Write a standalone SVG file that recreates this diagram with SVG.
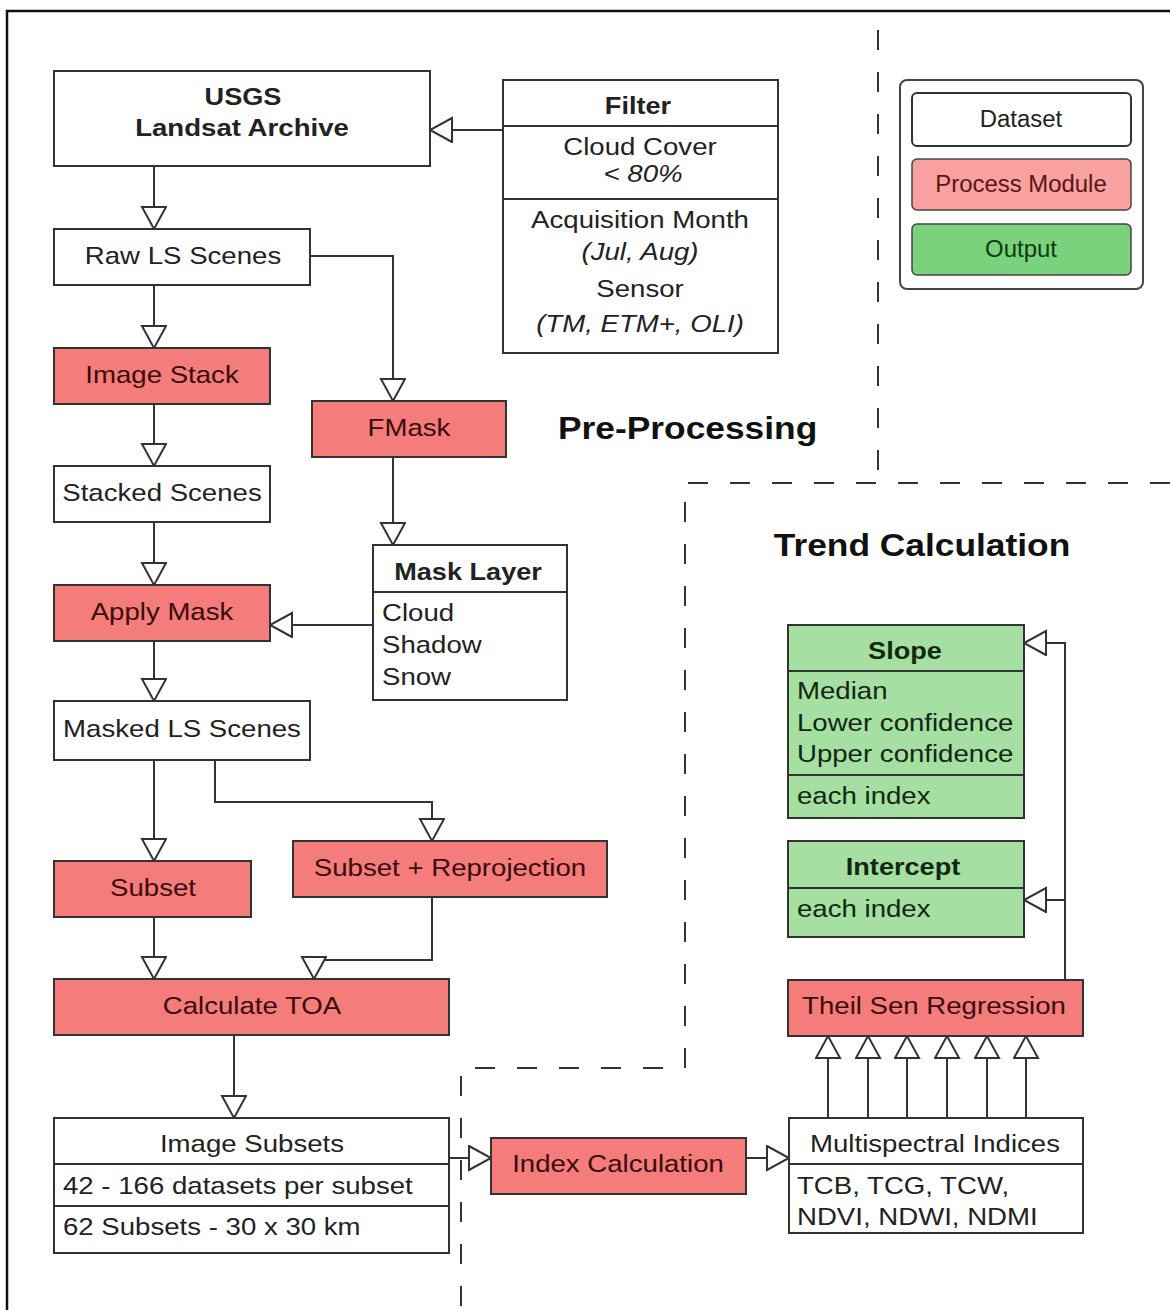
<svg xmlns="http://www.w3.org/2000/svg" width="1170" height="1310" viewBox="0 0 1170 1310">
<defs>
<marker id="arr" markerUnits="userSpaceOnUse" markerWidth="26" markerHeight="28" refX="23" refY="13" orient="auto">
<path d="M1,1 L23,13 L1,25 Z" fill="#fff" stroke="#333" stroke-width="2"/>
</marker>
<style>
text{font-family:"Liberation Sans",Arial,sans-serif;fill:#222;font-size:24px}
.b{font-weight:bold}
.i{font-style:italic}
.c{text-anchor:middle}
.ds{fill:#fff;stroke:#333;stroke-width:2}
.pm{fill:#f47c7a;stroke:#333;stroke-width:2}
.pmt{fill:#3a0c0c}
.out{fill:#a5dfa2;stroke:#333;stroke-width:2}
.outt{fill:#102810}
.con{fill:none;stroke:#333;stroke-width:2;marker-end:url(#arr)}
.dash{fill:none;stroke:#333;stroke-width:2;stroke-dasharray:20 22}
.div{stroke:#333;stroke-width:2}
.ttl{font-size:31px;font-weight:bold;fill:#111}
.lg{font-size:23px}
</style>
</defs>
<rect x="0" y="0" width="1170" height="1310" fill="#fff"/>
<path d="M7,1310 V11 H1170" fill="none" stroke="#111" stroke-width="2.5"/>

<g id="boundaries">
<path class="dash" d="M878,30 V483"/>
<path class="dash" d="M1170,483 H685 V1068 H461 V1310"/>
</g>

<g id="connectors">
<path class="con" d="M503,130 H430"/>
<path class="con" d="M154,166 V229"/>
<path class="con" d="M310,256 H393 V401"/>
<path class="con" d="M154,285 V348"/>
<path class="con" d="M154,404 V466"/>
<path class="con" d="M154,522 V585"/>
<path class="con" d="M393,457 V545"/>
<path class="con" d="M373,625 H270"/>
<path class="con" d="M154,641 V701"/>
<path class="con" d="M154,760 V861"/>
<path class="con" d="M215,760 V802 H432 V841"/>
<path class="con" d="M154,917 V979"/>
<path class="con" d="M432,897 V960 H314 V979"/>
<path class="con" d="M234,1035 V1118"/>
<path class="con" d="M449,1158 H491"/>
<path class="con" d="M746,1158 H789"/>
<path class="con" d="M828,1118 V1036"/>
<path class="con" d="M868,1118 V1036"/>
<path class="con" d="M907,1118 V1036"/>
<path class="con" d="M947,1118 V1036"/>
<path class="con" d="M987,1118 V1036"/>
<path class="con" d="M1026,1118 V1036"/>
<path class="con" d="M1065,980 V643 H1024"/>
<path class="con" d="M1065,900 H1024"/>
</g>

<g id="usgs">
<rect class="ds" x="54" y="71" width="376" height="95"/>
<text class="b c" transform="matrix(1.13 0 0 1 243 0)" y="105">USGS</text>
<text class="b c" transform="matrix(1.15 0 0 1 242 0)" y="136">Landsat Archive</text>
</g>

<g id="filter">
<rect class="ds" x="503" y="80" width="275" height="273"/>
<line class="div" x1="503" y1="126" x2="778" y2="126"/>
<line class="div" x1="503" y1="199" x2="778" y2="199"/>
<text class="b c" transform="matrix(1.13 0 0 1 638 0)" y="114">Filter</text>
<text class="c" transform="matrix(1.15 0 0 1 640 0)" y="155">Cloud Cover</text>
<text class="c i" transform="matrix(1.15 0 0 1 643 0)" y="182">&lt; 80%</text>
<text class="c" transform="matrix(1.15 0 0 1 640 0)" y="228">Acquisition Month</text>
<text class="c i" transform="matrix(1.15 0 0 1 640 0)" y="260">(Jul, Aug)</text>
<text class="c" transform="matrix(1.15 0 0 1 640 0)" y="297">Sensor</text>
<text class="c i" transform="matrix(1.15 0 0 1 640 0)" y="332">(TM, ETM+, OLI)</text>
</g>

<g id="legend">
<rect x="900" y="80" width="243" height="209" rx="7" fill="#fff" stroke="#444" stroke-width="2"/>
<rect x="912" y="93" width="219" height="53" rx="5" fill="#fff" stroke="#333" stroke-width="2"/>
<text class="c lg" transform="matrix(1.04 0 0 1 1021 0)" y="127">Dataset</text>
<rect x="912" y="159" width="219" height="51" rx="5" fill="#f9a0a0" stroke="#444" stroke-width="1.5"/>
<text class="c lg" transform="matrix(1.04 0 0 1 1021 0)" y="192" style="fill:#5a1515">Process Module</text>
<rect x="912" y="224" width="219" height="51" rx="5" fill="#7ad27c" stroke="#444" stroke-width="1.5"/>
<text class="c lg" transform="matrix(1.04 0 0 1 1021 0)" y="257" style="fill:#0e3a10">Output</text>
</g>

<g id="raw-ls-scenes">
<rect class="ds" x="54" y="229" width="256" height="56"/>
<text class="c" transform="matrix(1.15 0 0 1 183 0)" y="264">Raw LS Scenes</text>
</g>

<g id="image-stack">
<rect class="pm" x="54" y="348" width="216" height="56"/>
<text class="c pmt" transform="matrix(1.15 0 0 1 162 0)" y="383">Image Stack</text>
</g>

<g id="fmask">
<rect class="pm" x="312" y="401" width="194" height="56"/>
<text class="c pmt" transform="matrix(1.15 0 0 1 409 0)" y="436">FMask</text>
</g>

<text class="ttl" transform="matrix(1.14 0 0 1 558 0)" y="439">Pre-Processing</text>

<g id="stacked-scenes">
<rect class="ds" x="54" y="466" width="216" height="56"/>
<text class="c" transform="matrix(1.15 0 0 1 162 0)" y="501">Stacked Scenes</text>
</g>

<g id="apply-mask">
<rect class="pm" x="54" y="585" width="216" height="56"/>
<text class="c pmt" transform="matrix(1.15 0 0 1 162 0)" y="620">Apply Mask</text>
</g>

<g id="mask-layer">
<rect class="ds" x="373" y="545" width="194" height="155"/>
<line class="div" x1="373" y1="592" x2="567" y2="592"/>
<text class="b c" transform="matrix(1.13 0 0 1 468 0)" y="580">Mask Layer</text>
<text transform="matrix(1.15 0 0 1 382 0)" y="621">Cloud</text>
<text transform="matrix(1.15 0 0 1 382 0)" y="653">Shadow</text>
<text transform="matrix(1.15 0 0 1 382 0)" y="685">Snow</text>
</g>

<g id="masked-ls-scenes">
<rect class="ds" x="54" y="701" width="256" height="59"/>
<text class="c" transform="matrix(1.15 0 0 1 182 0)" y="737">Masked LS Scenes</text>
</g>

<g id="subset">
<rect class="pm" x="54" y="861" width="197" height="56"/>
<text class="c pmt" transform="matrix(1.15 0 0 1 153 0)" y="896">Subset</text>
</g>

<g id="subset-reprojection">
<rect class="pm" x="293" y="841" width="314" height="56"/>
<text class="c pmt" transform="matrix(1.15 0 0 1 450 0)" y="876">Subset + Reprojection</text>
</g>

<g id="calculate-toa">
<rect class="pm" x="54" y="979" width="395" height="56"/>
<text class="c pmt" transform="matrix(1.15 0 0 1 252 0)" y="1014">Calculate TOA</text>
</g>

<g id="image-subsets">
<rect class="ds" x="54" y="1118" width="395" height="135"/>
<line class="div" x1="54" y1="1164" x2="449" y2="1164"/>
<line class="div" x1="54" y1="1206" x2="449" y2="1206"/>
<text class="c" transform="matrix(1.15 0 0 1 252 0)" y="1152">Image Subsets</text>
<text transform="matrix(1.15 0 0 1 63 0)" y="1194">42 - 166 datasets per subset</text>
<text transform="matrix(1.15 0 0 1 63 0)" y="1235">62 Subsets - 30 x 30 km</text>
</g>

<g id="index-calculation">
<rect class="pm" x="491" y="1138" width="255" height="56"/>
<text class="c pmt" transform="matrix(1.15 0 0 1 618 0)" y="1172">Index Calculation</text>
</g>

<g id="multispectral-indices">
<rect class="ds" x="789" y="1118" width="294" height="115"/>
<line class="div" x1="789" y1="1164" x2="1083" y2="1164"/>
<text class="c" transform="matrix(1.15 0 0 1 935 0)" y="1152">Multispectral Indices</text>
<text transform="matrix(1.15 0 0 1 797 0)" y="1194">TCB, TCG, TCW,</text>
<text transform="matrix(1.15 0 0 1 797 0)" y="1225">NDVI, NDWI, NDMI</text>
</g>

<text class="ttl c" transform="matrix(1.14 0 0 1 922 0)" y="556">Trend Calculation</text>

<g id="slope">
<rect class="out" x="788" y="625" width="236" height="193"/>
<line class="div" x1="788" y1="671" x2="1024" y2="671"/>
<line class="div" x1="788" y1="775" x2="1024" y2="775"/>
<text class="b c outt" transform="matrix(1.13 0 0 1 905 0)" y="659">Slope</text>
<text class="outt" transform="matrix(1.15 0 0 1 797 0)" y="699">Median</text>
<text class="outt" transform="matrix(1.15 0 0 1 797 0)" y="731">Lower confidence</text>
<text class="outt" transform="matrix(1.15 0 0 1 797 0)" y="762">Upper confidence</text>
<text class="outt" transform="matrix(1.15 0 0 1 797 0)" y="804">each index</text>
</g>

<g id="intercept">
<rect class="out" x="788" y="841" width="236" height="96"/>
<line class="div" x1="788" y1="888" x2="1024" y2="888"/>
<text class="b c outt" transform="matrix(1.13 0 0 1 903 0)" y="875">Intercept</text>
<text class="outt" transform="matrix(1.15 0 0 1 797 0)" y="917">each index</text>
</g>

<g id="theil-sen">
<rect class="pm" x="788" y="980" width="295" height="56"/>
<text class="c pmt" transform="matrix(1.15 0 0 1 934 0)" y="1014">Theil Sen Regression</text>
</g>
</svg>
